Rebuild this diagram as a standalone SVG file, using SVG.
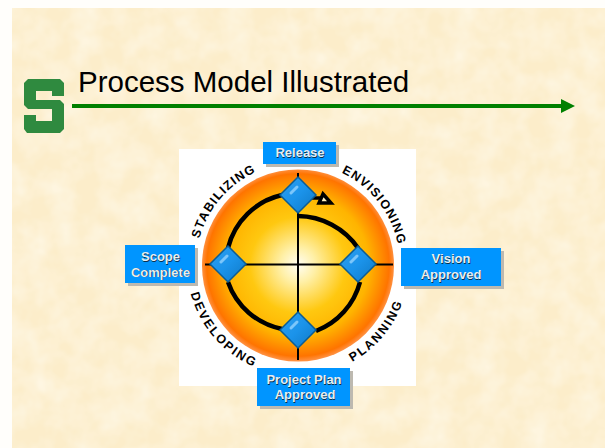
<svg xmlns="http://www.w3.org/2000/svg" width="605" height="448" viewBox="0 0 605 448">
<style>
.lbl{font:bold 13px "Liberation Sans",Arial,sans-serif;fill:#e6eef2;text-anchor:middle}
.sh{font:bold 13px "Liberation Sans",Arial,sans-serif;fill:#08304f;text-anchor:middle}
.arc{font:bold 12.500px "Liberation Sans",Arial,sans-serif;fill:#000;text-anchor:middle}
.box{fill:#0095ff}
.shadow{fill:#bdb9b0}
.ring{fill:none;stroke:#000;stroke-width:4.500}
.ax{stroke:#000;stroke-width:2;fill:none}
.dia{fill:url(#dg);stroke:#0b5c94;stroke-width:1.500}
.hi{fill:none;stroke:#7cc6fa;stroke-width:3;stroke-linecap:round}
</style>
<defs>
<radialGradient id="sun" cx="298" cy="265" r="96" gradientUnits="userSpaceOnUse">
<stop offset="0" stop-color="#fffef5"/><stop offset=".18" stop-color="#fff0a8"/><stop offset=".5" stop-color="#ffc810"/><stop offset=".74" stop-color="#ffb400"/><stop offset=".95" stop-color="#ff7400"/><stop offset="1" stop-color="#ff9040"/>
</radialGradient>
<linearGradient id="dg" x1="0" y1="0" x2="1" y2="1"><stop offset="0" stop-color="#2f9fee"/><stop offset=".5" stop-color="#1b93ea"/><stop offset="1" stop-color="#0f78c4"/></linearGradient>
<path id="tp" d="M196 265a102 102 0 0 1 204 0"/>
<path id="bp" d="M187 265a111 111 0 0 0 222 0"/>
<marker id="ga" markerUnits="userSpaceOnUse" markerWidth="15" markerHeight="15" refX="9" refY="7" orient="auto"><path d="M0 0L14 7L0 14z" fill="#008000"/></marker>
<filter id="mottle" x="0" y="0" width="1" height="1"><feTurbulence type="fractalNoise" baseFrequency=".04" numOctaves="3" seed="4"/><feColorMatrix values="0 0 0 0 1  0 0 0 0 .97  0 0 0 0 .88  1 0 0 0 -.3"/></filter>
</defs>
<rect width="605" height="448" fill="#fffefb"/>
<rect x="12" y="8" width="593" height="440" fill="#fcedca"/>
<rect x="12" y="8" width="593" height="440" filter="url(#mottle)"/>
<g id="title">
<path d="M28 79H60L64 83V96H52V91H36V100H60L64 104V129L60 133H27L24 129V115H36V121H52V109H28L24 105V83z" fill="#2f8a3f"/>
<text x="78" y="91.500" font-family="Liberation Sans,Arial,sans-serif" font-size="29.500" fill="#000">Process Model Illustrated</text>
<path d="M72 106H570" stroke="#008000" stroke-width="4" marker-end="url(#ga)"/>
</g>
<rect x="179" y="149" width="237" height="237" fill="#fff"/>
<circle cx="298" cy="265.500" r="96" fill="url(#sun)"/>
<g id="connectors">
<path class="ax" d="M298 173V360M205 264.500H393"/>
<path class="ring" d="M282 195A72 72 0 0 0 228 248"/>
<path class="ring" d="M298 216A74 74 0 0 1 358 248"/>
<path class="ring" d="M228 282A72 72 0 0 0 282 329"/>
<path class="ring" d="M316 331A72 72 0 0 0 360 282"/>
<path d="M312 198H321" stroke="#000" stroke-width="3.500"/>
<path d="M323 194L331 203H319z" stroke="#000" stroke-width="3.500" fill="#fff2c0"/>
</g>
<g id="d1"><path class="dia" d="M298 177L316 195L298 213L280 195z"/><path class="hi" d="M291 193L297 187"/></g>
<g id="d2"><path class="dia" d="M228 246L246 264L228 282L210 264z"/><path class="hi" d="M221 262L227 256"/></g>
<g id="d3"><path class="dia" d="M358 246L376 264L358 282L340 264z"/><path class="hi" d="M351 262L357 256"/></g>
<g id="d4"><path class="dia" d="M298 312L316 330L298 348L280 330z"/><path class="hi" d="M291 328L297 322"/></g>
<g id="labels">
<text class="arc" letter-spacing="1.200"><textPath href="#tp" startOffset="22.500%">STABILIZING</textPath></text>
<text class="arc" letter-spacing="1.200"><textPath href="#tp" startOffset="78.900%">ENVISIONING</textPath></text>
<text class="arc" letter-spacing="1.900"><textPath href="#bp" startOffset="22.800%">DEVELOPING</textPath></text>
<text class="arc" letter-spacing="1.900"><textPath href="#bp" startOffset="77.800%">PLANNING</textPath></text>
</g>
<g id="release"><rect class="shadow" x="266" y="145" width="73" height="22"/><rect class="box" x="263" y="142" width="73" height="22"/><text class="sh" x="300.700" y="157.700">Release</text><text class="lbl" x="300" y="157">Release</text></g>
<g id="scope"><rect class="shadow" x="128" y="248" width="70" height="38"/><rect class="box" x="125" y="245" width="70" height="38"/><text class="sh" x="161.200" y="261.700">Scope</text><text class="lbl" x="160.500" y="261">Scope</text><text class="sh" x="161.200" y="277.200">Complete</text><text class="lbl" x="160.500" y="276.500">Complete</text></g>
<g id="vision"><rect class="shadow" x="404" y="251" width="100" height="38"/><rect class="box" x="401" y="248" width="100" height="38"/><text class="sh" x="451.700" y="263.700">Vision</text><text class="lbl" x="451" y="263">Vision</text><text class="sh" x="451.700" y="279.700">Approved</text><text class="lbl" x="451" y="279">Approved</text></g>
<g id="plan"><rect class="shadow" x="260" y="371" width="93" height="38"/><rect class="box" x="257" y="368" width="93" height="38"/><text class="sh" x="304.700" y="384.700">Project Plan</text><text class="lbl" x="304" y="384">Project Plan</text><text class="sh" x="305.700" y="399.700">Approved</text><text class="lbl" x="305" y="399">Approved</text></g>
</svg>
